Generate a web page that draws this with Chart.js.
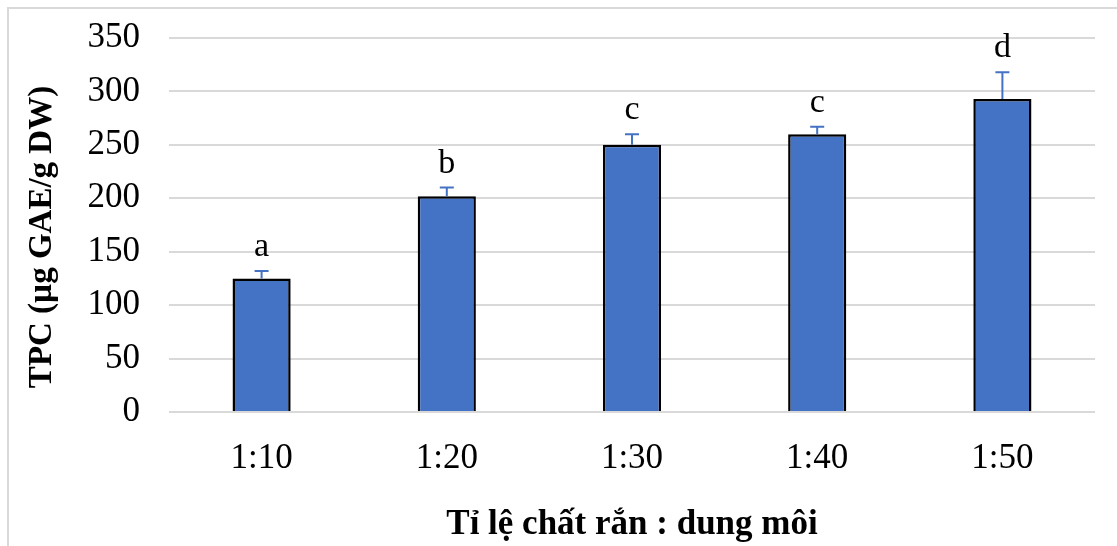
<!DOCTYPE html>
<html>
<head>
<meta charset="utf-8">
<script src="https://cdn.jsdelivr.net/npm/chart.js@4"></script>
<style>
    html, body { margin: 0; padding: 0; background: #fff; }
    #wrap { position: relative; width: 1117px; height: 546px; }
    #frame { position: absolute; left: 7px; top: 7px; right: 0; bottom: 0;
             border-top: 2px solid #d9d9d9; border-left: 2px solid #d9d9d9; }
    canvas { position: absolute; left: 0; top: 0; }
</style>
</head>
<body>
<div id="wrap">
    <div id="frame"></div>
    <canvas id="chart" width="1117" height="546"></canvas>
</div>
<script>
const categories = ['1:10', '1:20', '1:30', '1:40', '1:50'];
const tpcValues = [125, 202, 250, 260, 293];
const errValues = [7, 8, 10, 7, 25];
const groupLetters = ['a', 'b', 'c', 'c', 'd'];
const yTitle = 'TPC (µg GAE/g DW)';

const FONT = '"Liberation Serif", "Times New Roman", serif';

// error bars (upper half only), significance letters, y title
const errorBarsPlugin = {
    id: 'errorBars',
    afterDatasetsDraw(chart) {
        const ctx = chart.ctx;
        const y = chart.scales.y;
        const meta = chart.getDatasetMeta(0);
        ctx.save();
        meta.data.forEach((bar, i) => {
            const top = y.getPixelForValue(tpcValues[i]);
            const errTop = y.getPixelForValue(tpcValues[i] + errValues[i]);
            ctx.strokeStyle = '#4472C4';
            ctx.lineWidth = 2;
            ctx.beginPath();
            ctx.moveTo(bar.x, top);
            ctx.lineTo(bar.x, errTop);
            ctx.moveTo(bar.x - 7, errTop);
            ctx.lineTo(bar.x + 7, errTop);
            ctx.stroke();

            ctx.fillStyle = '#000';
            ctx.font = '34px ' + FONT;
            ctx.textAlign = 'center';
            ctx.textBaseline = 'alphabetic';
            ctx.fillText(groupLetters[i], bar.x, errTop - 15);
        });

        // axis title a bit lower than the plot centre, like the original
        ctx.translate(42, (y.top + y.bottom) / 2 + 12);
        ctx.rotate(-Math.PI / 2);
        ctx.font = 'bold 33px ' + FONT;
        ctx.textAlign = 'center';
        ctx.textBaseline = 'middle';
        ctx.fillText(yTitle, 0, 0);
        ctx.restore();
    }
};

new Chart(document.getElementById('chart'), {
    type: 'bar',
    data: {
        labels: categories,
        datasets: [{
            data: tpcValues,
            backgroundColor: '#4472C4',
            borderColor: '#000',
            borderWidth: 2.5,
            categoryPercentage: 1,
            barPercentage: 0.314
        }]
    },
    options: {
        responsive: false,
        animation: false,
        layout: { padding: { top: 38, right: 22, left: 10, bottom: 0 } },
        plugins: {
            legend: { display: false },
            tooltip: { enabled: false }
        },
        scales: {
            x: {
                grid: { display: false },
                border: { display: false },
                ticks: { color: '#000', font: { family: FONT, size: 35 }, padding: 18 },
                title: {
                    display: true,
                    text: 'Tỉ lệ chất rắn : dung môi',
                    color: '#000',
                    font: { family: FONT, size: 35, weight: 'bold' },
                    padding: { top: 18, bottom: 0 }
                },
                afterFit: s => { s.height = 134; s.paddingLeft = 0; s.paddingRight = 0; }
            },
            y: {
                min: 0,
                max: 350,
                ticks: { stepSize: 50, color: '#000', font: { family: FONT, size: 35 }, padding: 29 },
                grid: { color: '#d9d9d9', lineWidth: 2, drawTicks: false },
                border: { display: false },
                afterFit: s => { s.width = 159; s.paddingTop = 0; s.paddingBottom = 0; }
            }
        }
    },
    plugins: [errorBarsPlugin]
});
</script>
</body>
</html>
